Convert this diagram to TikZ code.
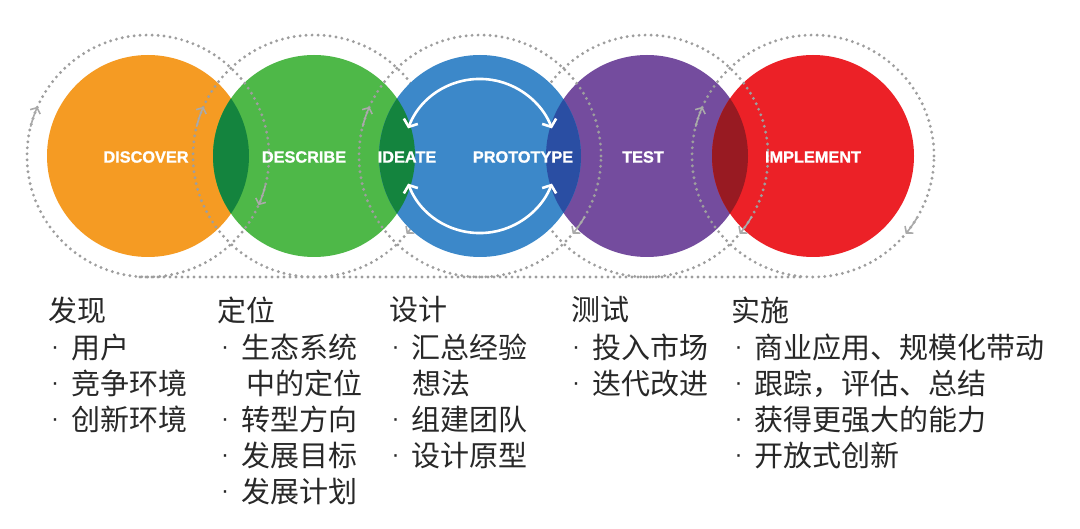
\documentclass[tikz,border=0pt]{standalone}
\usepackage{fontspec}
\setmainfont{Liberation Sans}
\newfontfamily\heavy{Liberation Sans}[FakeBold=1.2]
\newfontfamily\cjk{Noto Sans CJK SC}
\usetikzlibrary{arrows.meta}
\definecolor{cOrange}{RGB}{245,155,35}
\definecolor{cGreen}{RGB}{78,184,72}
\definecolor{cDkGreen}{RGB}{20,132,62}
\definecolor{cBlue}{RGB}{60,136,201}
\definecolor{cDkBlue}{RGB}{42,78,163}
\definecolor{cPurple}{RGB}{116,76,158}
\definecolor{cRed}{RGB}{236,33,39}
\definecolor{cDkRed}{RGB}{152,26,34}
\definecolor{dotgray}{RGB}{158,158,158}
\definecolor{headgray}{RGB}{170,170,170}
\definecolor{textgray}{RGB}{40,40,40}
\newcommand\bul{\makebox[32pt][c]{\raisebox{4pt}{\rmfamily\fontsize{24}{24}\selectfont ·}}}
\begin{document}
\begin{tikzpicture}[x=1pt,y=1pt,
  loopline/.style={draw=dotgray, line width=3.2pt, line cap=round, dash pattern=on 0pt off 6pt},
  loophead/.style={draw=headgray, line width=1.6pt, -{Straight Barb[length=4.5pt,width=11pt]}},
  cyc/.style={draw=white, line width=2.6pt, {Straight Barb[length=6pt,width=15pt]}-{Straight Barb[length=6pt,width=15pt]}},
  phase/.style={text=white, font=\heavy\fontsize{16.3}{18}\selectfont\bfseries, inner sep=0pt},
  hd/.style={anchor=west, inner sep=0pt, text=textgray, font=\cjk\fontsize{29}{32}\selectfont}]
\fill[white] (0,0) rectangle (1080,-529);
\useasboundingbox (0,0) rectangle (1080,-529);
% centres
\coordinate (cD) at (148,-156);
\coordinate (cS) at (314,-156);
\coordinate (cI) at (480,-156);
\coordinate (cT) at (647,-156);
\coordinate (cM) at (813,-156);
% coloured discs
\fill[cOrange] (cD) circle (101);
\fill[cGreen] (cS) circle (101);
\fill[cPurple] (cT) circle (101);
\fill[cRed] (cM) circle (101);
\begin{scope}
  \clip (cD) circle (101);
  \fill[cDkGreen] (cS) circle (101);
\end{scope}
\begin{scope}
  \clip (cT) circle (101);
  \fill[cDkRed] (cM) circle (101);
\end{scope}
% dotted iteration loops
\foreach \c in {cD,cS,cI,cT,cM} {
  \draw[loopline] (\c) circle (121);
  \draw[loophead] (\c) ++(166:121) arc[start angle=166, end angle=156, radius=121];
}
\foreach \c in {cS,cI,cT,cM} {
  \draw[loophead] (\c) ++(-30:121) arc[start angle=-30, end angle=-40, radius=121];
}
\draw[loophead] (cD) ++(-14:121) arc[start angle=-14, end angle=-24, radius=121];
\coordinate (bl) at (140,-277);
\coordinate (br) at (805,-277);
\draw[loopline] (bl) -- (br);
% blue disc on top
\fill[cBlue] (cI) circle (101);
\begin{scope}
  \clip (cI) circle (101);
  \fill[cDkGreen] (cS) circle (101);
  \fill[cDkBlue] (cT) circle (101);
\end{scope}
\draw[cyc] (cI) ++(159:77) arc[start angle=159, end angle=21, radius=77];
\draw[cyc] (cI) ++(201:77) arc[start angle=201, end angle=339, radius=77];
% phase labels
\node[phase] (lD) at (146,-157) {DISCOVER};
\node[phase] (lS) at (304,-157) {DESCRIBE};
\node[phase] (lI) at (407,-157) {IDEATE};
\node[phase] (lP) at (523,-157) {PROTOTYPE};
\node[phase] (lT) at (643,-157) {TEST};
\node[phase] (lM) at (813,-157) {IMPLEMENT};
% column 1
\node[hd] (h1) at (48,-310) {发现};
\node[hd] (a1) at (39,-347.5) {\bul 用户};
\node[hd] (a2) at (39,-383.5) {\bul 竞争环境};
\node[hd] (a3) at (39,-419.5) {\bul 创新环境};
% column 2
\node[hd] (h2) at (217,-310) {定位};
\node[hd] (b1) at (209,-347.5) {\bul 生态系统};
\node[hd] (b1b) at (246,-383.5) {中的定位};
\node[hd] (b2) at (209,-419.5) {\bul 转型方向};
\node[hd] (b3) at (209,-455.5) {\bul 发展目标};
\node[hd] (b4) at (209,-491.5) {\bul 发展计划};
% column 3
\node[hd] (h3) at (389,-310) {设计};
\node[hd] (c1) at (379.5,-347.5) {\bul 汇总经验};
\node[hd] (c1b) at (412,-383.5) {想法};
\node[hd] (c2) at (379.5,-419.5) {\bul 组建团队};
\node[hd] (c3) at (379.5,-455.5) {\bul 设计原型};
% column 4
\node[hd] (h4) at (571,-310) {测试};
\node[hd] (d1) at (560,-347.5) {\bul 投入市场};
\node[hd] (d2) at (560,-383.5) {\bul 迭代改进};
% column 5
\node[hd] (h5) at (731,-310) {实施};
\node[hd] (e1) at (722.5,-347.5) {\bul 商业应用、规模化带动};
\node[hd] (e2) at (722.5,-383.5) {\bul 跟踪，评估、总结};
\node[hd] (e3) at (722.5,-419.5) {\bul 获得更强大的能力};
\node[hd] (e4) at (722.5,-455.5) {\bul 开放式创新};
\end{tikzpicture}
\end{document}
